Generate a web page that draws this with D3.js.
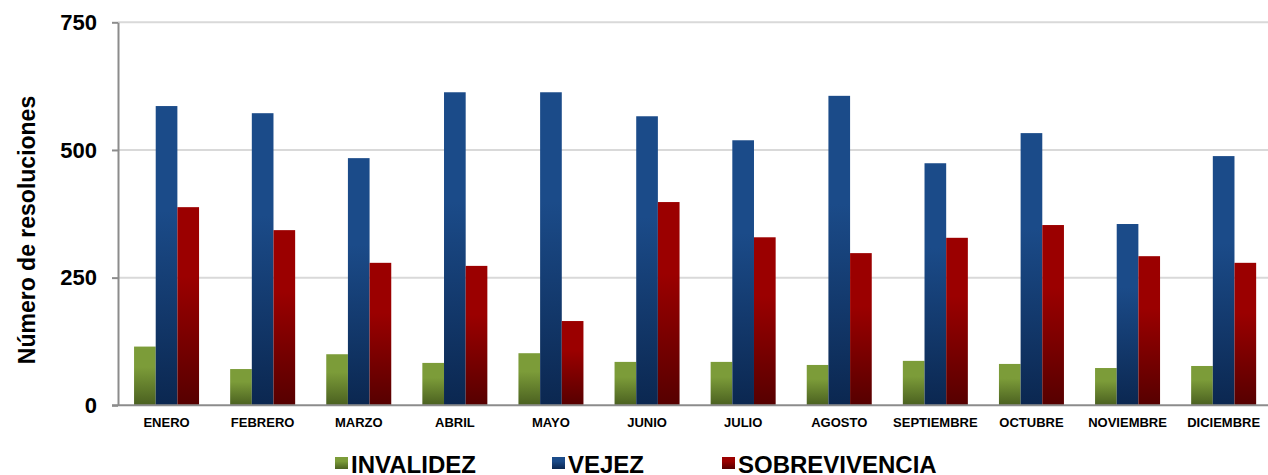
<!DOCTYPE html>
<html>
<head>
<meta charset="utf-8">
<script src="https://cdn.jsdelivr.net/npm/d3@7"></script>
<style>
  body { margin: 0; background: #fff; }
  svg { display: block; font-family: Arial, "Liberation Sans", sans-serif; }
</style>
</head>
<body>
<svg width="1268" height="475"></svg>
<script>
// data
let months = ["ENERO", "FEBRERO", "MARZO", "ABRIL", "MAYO", "JUNIO", "JULIO", "AGOSTO", "SEPTIEMBRE", "OCTUBRE", "NOVIEMBRE", "DICIEMBRE"];
let invalidez = [115, 71, 100, 83, 102, 85, 85, 79, 87, 81, 73, 77];
let vejez = [586, 572, 484, 613, 613, 566, 519, 606, 474, 533, 355, 488];
let sobrevivencia = [388, 343, 279, 273, 165, 398, 329, 298, 328, 353, 292, 279];
let yTicks = [0, 250, 500, 750];
let seriesNames = ["INVALIDEZ", "VEJEZ", "SOBREVIVENCIA"];

let svg = d3.select("svg");

// gradients top light -> bottom dark
let gradStops = {
    INVALIDEZ: ["#7c9c39", "#4a6020"],
    VEJEZ: ["#1b4b89", "#0b2750"],
    SOBREVIVENCIA: ["#9b0000", "#560000"]
};
let defs = svg.append("defs");
seriesNames.forEach(function (s, i) {
    let lg = defs.append("linearGradient")
        .attr("id", "g" + i)
        .attr("x1", 0).attr("y1", 0).attr("x2", 0).attr("y2", 1);
    lg.append("stop").attr("offset", "0%").attr("stop-color", gradStops[s][0]);
    lg.append("stop").attr("offset", "35%").attr("stop-color", gradStops[s][0]);
    lg.append("stop").attr("offset", "100%").attr("stop-color", gradStops[s][1]);
});

let plotLeft = 118, plotRight = 1268, plotTop = 22.3, plotBottom = 405.3;

let y = d3.scaleLinear()
    .domain([0, 750])
    .range([plotBottom, plotTop]);

let x0 = d3.scaleBand()
    .domain(months)
    .range([118.5, 1271.7])
    .paddingInner(0.3236)
    .paddingOuter(0.1618);

let x1 = d3.scaleBand()
    .domain(seriesNames)
    .range([0, x0.bandwidth()]);

// gridlines
svg.append("g")
    .selectAll("line")
    .data(yTicks.filter(d => d > 0))
    .enter().append("line")
    .attr("x1", plotLeft).attr("x2", plotRight)
    .attr("y1", d => y(d)).attr("y2", d => y(d))
    .attr("stroke", "#d9d9d9")
    .attr("stroke-width", 2);

// bars
let rows = months.map(function (m, i) {
    return { month: m, values: [invalidez[i], vejez[i], sobrevivencia[i]] };
});
let groups = svg.append("g")
    .selectAll("g")
    .data(rows)
    .enter().append("g")
    .attr("transform", d => "translate(" + x0(d.month) + ",0)");
groups.selectAll("rect")
    .data(d => d.values.map((v, i) => ({ key: seriesNames[i], idx: i, value: v })))
    .enter().append("rect")
    .attr("x", d => x1(d.key))
    .attr("width", x1.bandwidth())
    .attr("y", d => y(d.value))
    .attr("height", d => y(0) - y(d.value))
    .attr("fill", d => "url(#g" + d.idx + ")");

// y axis
let yAxis = svg.append("g")
    .attr("transform", "translate(" + plotLeft + ",0)")
    .call(d3.axisLeft(y).tickValues(yTicks).tickSize(6).tickPadding(15).tickSizeOuter(0));
yAxis.select(".domain").attr("stroke", "#8c8c8c").attr("stroke-width", 2);
yAxis.selectAll(".tick line").attr("stroke", "#8c8c8c").attr("stroke-width", 2);
yAxis.selectAll(".tick text")
    .attr("font-size", 22)
    .attr("font-weight", "bold")
    .attr("font-family", "Arial, 'Liberation Sans', sans-serif")
    .attr("fill", "#000");

// baseline
svg.append("line")
    .attr("x1", plotLeft - 6).attr("x2", plotRight)
    .attr("y1", y(0)).attr("y2", y(0))
    .attr("stroke", "#8c8c8c")
    .attr("stroke-width", 2);

// x axis labels
let xAxis = svg.append("g")
    .attr("transform", "translate(0," + plotBottom + ")")
    .call(d3.axisBottom(x0).tickSize(0).tickPadding(12));
xAxis.select(".domain").remove();
xAxis.selectAll(".tick text")
    .attr("font-size", 13)
    .attr("font-weight", "bold")
    .attr("font-family", "Arial, 'Liberation Sans', sans-serif")
    .attr("fill", "#000");

// y title
svg.append("text")
    .attr("transform", "translate(35,230) rotate(-90)")
    .attr("text-anchor", "middle")
    .attr("font-size", 23)
    .attr("font-weight", "bold")
    .text("Número de resoluciones");

// legend
let legendX = [335, 552, 722];
let legend = svg.append("g")
    .selectAll("g")
    .data(seriesNames)
    .enter().append("g")
    .attr("transform", (d, i) => "translate(" + legendX[i] + ",473)");
legend.append("rect")
    .attr("x", 0).attr("y", -16)
    .attr("width", 13).attr("height", 12)
    .attr("fill", (d, i) => "url(#g" + i + ")");
legend.append("text")
    .attr("x", 16)
    .attr("font-size", 24)
    .attr("font-weight", "bold")
    .text(d => d);
</script>
</body>
</html>
